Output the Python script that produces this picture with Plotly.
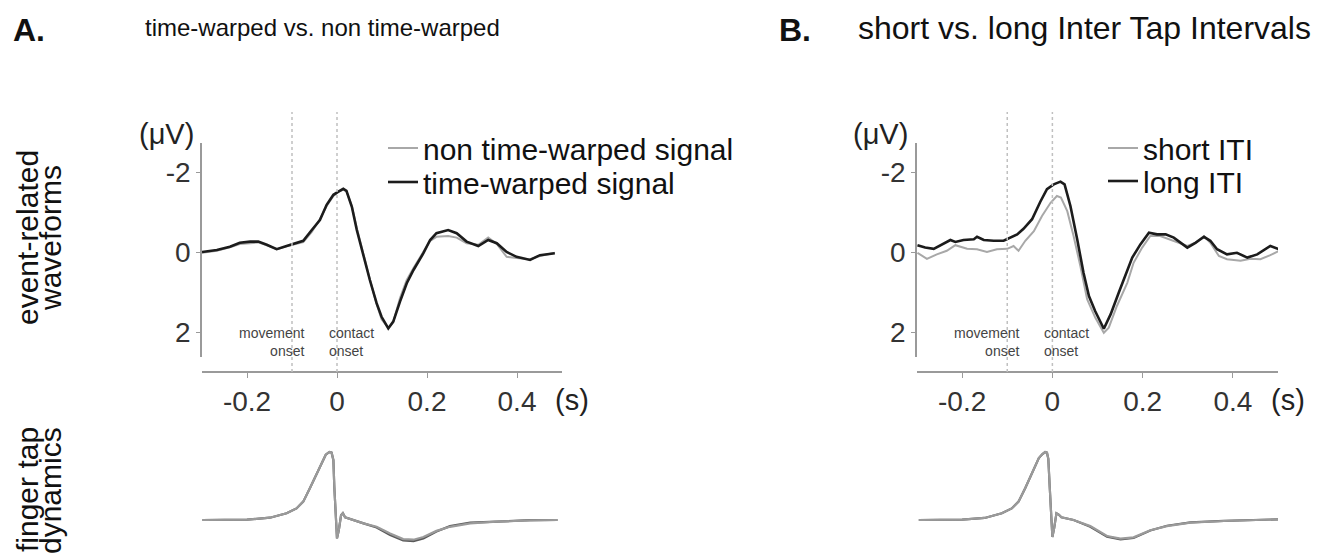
import plotly.graph_objects as go

# ---------------- data ----------------
# Panel A: event-related waveforms (μV), negative up
t_A = [-0.300, -0.267, -0.238, -0.216, -0.193, -0.175, -0.156, -0.134, -0.112, -0.090,
       -0.075, -0.056, -0.038, -0.023, -0.008, 0.003, 0.014, 0.021, 0.033, 0.044,
       0.059, 0.073, 0.088, 0.099, 0.114, 0.125, 0.140, 0.155, 0.170, 0.192,
       0.207, 0.221, 0.247, 0.266, 0.288, 0.314, 0.336, 0.355, 0.377, 0.399,
       0.429, 0.451, 0.484]
erp_A_warped = [0.00, -0.05, -0.13, -0.23, -0.26, -0.26, -0.18, -0.07, -0.15, -0.23,
                -0.28, -0.55, -0.80, -1.18, -1.43, -1.51, -1.58, -1.53, -1.13, -0.55,
                0.12, 0.70, 1.28, 1.62, 1.91, 1.74, 1.24, 0.78, 0.45, 0.03,
                -0.30, -0.47, -0.55, -0.47, -0.26, -0.15, -0.30, -0.22, 0.00, 0.12,
                0.20, 0.08, 0.03]
erp_A_nonwarped = [0.02, -0.03, -0.12, -0.20, -0.22, -0.24, -0.17, -0.07, -0.14, -0.20,
                   -0.25, -0.50, -0.82, -1.15, -1.40, -1.50, -1.56, -1.52, -1.15, -0.60,
                   0.10, 0.68, 1.30, 1.68, 1.90, 1.75, 1.15, 0.70, 0.40, 0.00,
                   -0.28, -0.38, -0.40, -0.36, -0.22, -0.18, -0.36, -0.20, 0.12, 0.15,
                   0.18, 0.10, 0.02]

# Panel B: event-related waveforms (μV)
t_B_long = [-0.299, -0.282, -0.263, -0.248, -0.226, -0.215, -0.197, -0.174, -0.167, -0.152,
            -0.130, -0.108, -0.093, -0.078, -0.064, -0.045, -0.027, -0.012, 0.003, 0.018,
            0.027, 0.040, 0.055, 0.069, 0.081, 0.095, 0.114, 0.129, 0.147, 0.162,
            0.177, 0.195, 0.214, 0.232, 0.251, 0.269, 0.299, 0.317, 0.336, 0.350,
            0.365, 0.387, 0.409, 0.432, 0.454, 0.483, 0.502]
erp_B_long = [-0.17, -0.11, -0.08, -0.17, -0.30, -0.25, -0.30, -0.32, -0.38, -0.30,
              -0.28, -0.28, -0.36, -0.44, -0.58, -0.82, -1.25, -1.57, -1.69, -1.76,
              -1.69, -1.15, -0.32, 0.52, 1.10, 1.48, 1.92, 1.56, 1.02, 0.60,
              0.14, -0.19, -0.48, -0.44, -0.44, -0.36, -0.11, -0.23, -0.38, -0.28,
              -0.07, 0.06, 0.02, 0.14, 0.06, -0.15, -0.07]
t_B_short = [-0.299, -0.278, -0.256, -0.234, -0.215, -0.189, -0.167, -0.145, -0.123, -0.100,
             -0.086, -0.075, -0.060, -0.041, -0.023, -0.004, 0.010, 0.019, 0.033, 0.047,
             0.062, 0.077, 0.095, 0.114, 0.125, 0.143, 0.166, 0.180, 0.199, 0.217,
             0.239, 0.258, 0.276, 0.299, 0.317, 0.336, 0.350, 0.369, 0.387, 0.417,
             0.439, 0.461, 0.483, 0.502]
erp_B_short = [0.02, 0.17, 0.06, -0.03, -0.17, -0.08, -0.07, 0.00, -0.07, -0.08,
               -0.15, -0.03, -0.28, -0.52, -0.90, -1.23, -1.40, -1.36, -1.02, -0.40,
               0.35, 1.18, 1.64, 2.02, 1.89, 1.35, 0.77, 0.27, -0.11, -0.40,
               -0.40, -0.32, -0.25, -0.15, -0.23, -0.40, -0.23, 0.10, 0.18, 0.22,
               0.17, 0.18, 0.08, -0.03]

# Finger tap dynamics (arbitrary units)
t_tap_A = [-0.299, -0.200, -0.149, -0.112, -0.090, -0.075, -0.060, -0.045, -0.030, -0.025,
           -0.019, -0.016, -0.012, -0.008, -0.006, -0.003, 0.000, 0.004, 0.009, 0.013,
           0.018, 0.059, 0.088, 0.118, 0.147, 0.170, 0.192, 0.221, 0.251, 0.296,
           0.355, 0.429, 0.490]
tap_A_1 = [0.00, 0.005, 0.034, 0.10, 0.17, 0.27, 0.47, 0.69, 0.91, 0.96,
           0.99, 1.00, 0.99, 0.88, 0.49, 0.00, -0.27, -0.15, 0.07, 0.10,
           0.04, -0.05, -0.10, -0.20, -0.28, -0.29, -0.25, -0.16, -0.10, -0.05,
           -0.025, -0.005, 0.00]
tap_A_2 = [0.00, 0.005, 0.034, 0.10, 0.17, 0.27, 0.47, 0.69, 0.91, 0.96,
           0.99, 1.00, 0.99, 0.88, 0.49, 0.00, -0.27, -0.15, 0.07, 0.10,
           0.04, -0.05, -0.11, -0.22, -0.30, -0.31, -0.27, -0.17, -0.09, -0.04,
           -0.02, -0.003, 0.00]
t_tap_B = [-0.296, -0.200, -0.150, -0.112, -0.090, -0.075, -0.060, -0.045, -0.030, -0.022,
           -0.016, -0.012, -0.009, -0.006, -0.003, 0.000, 0.004, 0.009, 0.014, 0.020,
           0.047, 0.084, 0.121, 0.151, 0.180, 0.217, 0.254, 0.306, 0.380, 0.500]
tap_B_1 = [0.00, 0.005, 0.03, 0.10, 0.17, 0.27, 0.47, 0.69, 0.91, 0.97,
           1.00, 0.99, 0.90, 0.50, 0.00, -0.25, -0.12, 0.10, 0.08, 0.04,
           0.00, -0.09, -0.235, -0.275, -0.255, -0.15, -0.09, -0.04, -0.015, 0.01]
tap_B_2 = [0.00, 0.005, 0.03, 0.10, 0.17, 0.27, 0.47, 0.69, 0.91, 0.97,
           1.00, 0.99, 0.90, 0.50, 0.00, -0.25, -0.12, 0.10, 0.08, 0.04,
           0.00, -0.10, -0.245, -0.285, -0.265, -0.155, -0.085, -0.035, -0.012, 0.01]

event_times = [-0.1, 0.0]
x_tickvals = [-0.2, 0, 0.2, 0.4]
x_ticktext = ["-0.2", "0", "0.2", "0.4"]
y_tickvals = [-2, 0, 2]
y_ticktext = ["-2", "0", "2"]

# ---------------- figure ----------------
W, H = 1331, 559
FONT = "Liberation Sans, Arial, sans-serif"

def px(x):
    return x / W

def py(y):
    return 1 - y / H

GREY = "#a8a8a8"
BLACK = "#1c1c1c"

fig = go.Figure()
fig.add_trace(go.Scatter(x=t_A, y=erp_A_nonwarped, mode="lines", name="non time-warped signal",
                         line=dict(color=GREY, width=2), xaxis="x", yaxis="y", legend="legend"))
fig.add_trace(go.Scatter(x=t_A, y=erp_A_warped, mode="lines", name="time-warped signal",
                         line=dict(color=BLACK, width=2.6), xaxis="x", yaxis="y", legend="legend2"))
fig.add_trace(go.Scatter(x=t_B_short, y=erp_B_short, mode="lines", name="short ITI",
                         line=dict(color=GREY, width=2), xaxis="x2", yaxis="y2", legend="legend3"))
fig.add_trace(go.Scatter(x=t_B_long, y=erp_B_long, mode="lines", name="long ITI",
                         line=dict(color=BLACK, width=2.6), xaxis="x2", yaxis="y2", legend="legend4"))

fig.add_trace(go.Scatter(x=t_tap_A, y=tap_A_2, mode="lines", showlegend=False,
                         line=dict(color="#5a5a5a", width=2.2), xaxis="x3", yaxis="y3"))
fig.add_trace(go.Scatter(x=t_tap_A, y=tap_A_1, mode="lines", showlegend=False,
                         line=dict(color="#9a9a9a", width=2.2), xaxis="x3", yaxis="y3"))
fig.add_trace(go.Scatter(x=t_tap_B, y=tap_B_2, mode="lines", showlegend=False,
                         line=dict(color="#5a5a5a", width=2.2), xaxis="x4", yaxis="y4"))
fig.add_trace(go.Scatter(x=t_tap_B, y=tap_B_1, mode="lines", showlegend=False,
                         line=dict(color="#9a9a9a", width=2.2), xaxis="x4", yaxis="y4"))

AX = "#9a9a9a"
xa_common = dict(range=[-0.3, 0.5], showline=True, linecolor=AX, linewidth=1.5,
                 ticks="outside", ticklen=5, tickcolor=AX, tickwidth=1.2,
                 tickvals=x_tickvals, ticktext=x_ticktext, showgrid=False, zeroline=False,
                 tickfont=dict(family=FONT, size=28, color="#333"), anchor="free",
                 position=py(372), fixedrange=True)
ya_common = dict(range=[2.625, -2.725], showline=True, linecolor=AX, linewidth=1.5,
                 ticks="outside", ticklen=4, tickcolor=AX, tickwidth=1.2,
                 tickvals=y_tickvals, ticktext=y_ticktext, showgrid=False, zeroline=False,
                 tickfont=dict(family=FONT, size=28, color="#333"),
                 domain=[py(357), py(143)], fixedrange=True)
tap_x = dict(range=[-0.3, 0.5], visible=False, fixedrange=True)
tap_y = dict(range=[-0.5, 1.2], visible=False, domain=[py(554), py(438.4)], fixedrange=True)

fig.update_layout(
    width=W, height=H, margin=dict(l=0, r=0, t=0, b=0),
    paper_bgcolor="white", plot_bgcolor="rgba(0,0,0,0)",
    font=dict(family=FONT, color="#222"),
    xaxis=dict(domain=[px(202), px(562)], **xa_common),
    yaxis=dict(anchor="x", **ya_common),
    xaxis2=dict(domain=[px(917), px(1278)], **xa_common),
    yaxis2=dict(anchor="x2", **ya_common),
    xaxis3=dict(domain=[px(202), px(562)], anchor="y3", **tap_x),
    yaxis3=dict(anchor="x3", **tap_y),
    xaxis4=dict(domain=[px(917), px(1278)], anchor="y4", **tap_x),
    yaxis4=dict(anchor="x4", **tap_y),
)

leg = dict(xanchor="left", yanchor="middle", bgcolor="rgba(0,0,0,0)", borderwidth=0,
           font=dict(family=FONT, size=30, color="#111"), itemwidth=30)
fig.update_layout(
    legend=dict(x=px(383), y=py(148), **leg),
    legend2=dict(x=px(383), y=py(182), **leg),
    legend3=dict(x=px(1103), y=py(148), **leg),
    legend4=dict(x=px(1103), y=py(181), **leg),
)

# dotted event lines
for xr in ["x", "x2"]:
    for ev in event_times:
        fig.add_shape(type="line", xref=xr, yref="paper", x0=ev, x1=ev, y0=py(372), y1=py(112),
                      line=dict(color="#c0c0c0", width=1.5, dash="dot"))

ann = []
for xr in ["x", "x2"]:
    ann.append(dict(xref=xr, yref="paper", x=event_times[0], y=py(342), xanchor="right", yanchor="middle",
                    xshift=14, text="movement<br>onset", align="right", showarrow=False,
                    font=dict(family=FONT, size=14, color="#444")))
    ann.append(dict(xref=xr, yref="paper", x=event_times[1], y=py(342), xanchor="left", yanchor="middle",
                    xshift=-10, text="contact<br>onset", align="left", showarrow=False,
                    font=dict(family=FONT, size=14, color="#444")))

# unit labels
for cx in [166, 881]:
    ann.append(dict(xref="paper", yref="paper", x=px(cx), y=py(134), text="(μV)", showarrow=False,
                    xanchor="center", yanchor="middle", font=dict(family=FONT, size=29, color="#222")))
for cx in [572, 1288]:
    ann.append(dict(xref="paper", yref="paper", x=px(cx), y=py(400), text="(s)", showarrow=False,
                    xanchor="center", yanchor="middle", font=dict(family=FONT, size=29, color="#222")))

# panel titles
ann.append(dict(xref="paper", yref="paper", x=px(11), y=py(30), text="<b>A.</b>", showarrow=False,
                xanchor="left", yanchor="middle", font=dict(family=FONT, size=32, color="#111")))
ann.append(dict(xref="paper", yref="paper", x=px(143), y=py(28), text="time-warped vs. non time-warped",
                showarrow=False, xanchor="left", yanchor="middle",
                font=dict(family=FONT, size=24, color="#111")))
ann.append(dict(xref="paper", yref="paper", x=px(777), y=py(30), text="<b>B.</b>", showarrow=False,
                xanchor="left", yanchor="middle", font=dict(family=FONT, size=32, color="#111")))
ann.append(dict(xref="paper", yref="paper", x=px(856), y=py(28), text="short vs. long Inter Tap Intervals",
                showarrow=False, xanchor="left", yanchor="middle",
                font=dict(family=FONT, size=32, color="#111")))

# row labels (rotated)
for txt, cx, cy in [("event-related", 27, 238), ("waveforms", 50, 238),
                    ("finger tap", 27, 490), ("dynamics", 50, 490)]:
    ann.append(dict(xref="paper", yref="paper", x=px(cx), y=py(cy), text=txt, showarrow=False,
                    textangle=-90, xanchor="center", yanchor="middle",
                    font=dict(family=FONT, size=30, color="#111")))

fig.update_layout(annotations=ann)

fig.write_html("out.html")
